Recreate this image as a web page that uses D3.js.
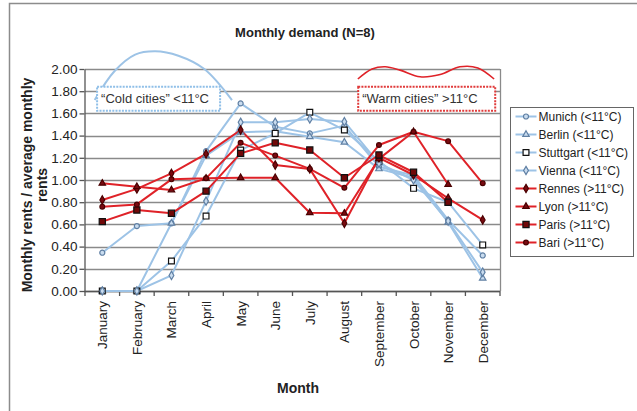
<!DOCTYPE html>
<html>
<head>
<meta charset="utf-8">
<script src="https://cdn.jsdelivr.net/npm/d3@7"></script>
<style>
  html, body { margin: 0; padding: 0; background: #fff; }
  svg { display: block; font-family: "Liberation Sans", Arial, sans-serif; }
</style>
</head>
<body>
<svg id="chart" width="637" height="411"></svg>
<script>
// ---------- DATA ----------
const months = ["January","February","March","April","May","June","July","August","September","October","November","December"];
const yTicks = [0, 0.2, 0.4, 0.6, 0.8, 1.0, 1.2, 1.4, 1.6, 1.8, 2.0];

const munich    = [0.345, 0.585, 0.61, 1.26, 1.69, 1.48, 1.42, 1.49, 1.12, 1.04, 0.64, 0.32];
const berlin    = [0.00, 0.00, 0.61, 1.22, 1.43, 1.44, 1.39, 1.34, 1.10, 1.02, 0.62, 0.115];
const stuttgart = [0.00, 0.00, 0.27, 0.675, 1.27, 1.42, 1.61, 1.45, 1.17, 0.925, 0.80, 0.415];
const vienna    = [0.00, 0.00, 0.14, 0.81, 1.52, 1.52, 1.55, 1.525, 1.15, 1.00, 0.63, 0.17];
const rennes    = [0.82, 0.92, 1.06, 1.235, 1.45, 1.135, 1.10, 0.61, 1.20, 1.045, 0.835, 0.64];
const lyon      = [0.97, 0.94, 0.91, 1.015, 1.02, 1.02, 0.705, 0.70, 1.19, 1.435, 0.96, null];
const paris     = [0.625, 0.73, 0.70, 0.90, 1.24, 1.335, 1.27, 1.02, 1.225, 1.07, 0.80, null];
const bari      = [0.76, 0.78, 1.006, 1.015, 1.335, 1.22, 1.10, 0.93, 1.315, 1.435, 1.35, 0.97];

const seriesNames = ["Munich (<11°C)","Berlin (<11°C)","Stuttgart (<11°C)","Vienna (<11°C)",
                     "Rennes (>11°C)","Lyon (>11°C)","Paris (>11°C)","Bari (>11°C)"];
const seriesValues = [munich, berlin, stuttgart, vienna, rennes, lyon, paris, bari];

// annotation shapes, in (month index, value) units
const coldArc  = [[-0.22,1.72],[0.35,1.98],[0.95,2.13],[1.53,2.16],[2.2,2.12],[2.95,2.0],[3.75,1.72]];
const warmWave = [[7.39,1.91],[7.8,2.0],[8.18,2.02],[8.61,1.99],[9.19,1.93],[9.77,1.95],[10.34,2.02],[10.86,2.01],[11.33,1.91]];

// ---------- STYLES ----------
const BLUE = "#9dc3e6", RED = "#df2228";
const styles = [
  {line: BLUE, w: 2, shape: d3.symbolCircle,   size: 20, fill: "#c9dcef", stroke: "#5f7fa3"},
  {line: BLUE, w: 2, shape: d3.symbolTriangle, size: 18, fill: "#c9dcef", stroke: "#5f7fa3"},
  {line: BLUE, w: 2, shape: d3.symbolSquare,   size: 34, fill: "#ffffff", stroke: "#111111"},
  {line: BLUE, w: 2, shape: d3.symbolDiamond,  size: 20, fill: "#c9dcef", stroke: "#5f7fa3"},
  {line: RED,  w: 2, shape: d3.symbolDiamond,  size: 20, fill: "#7a0a10", stroke: "#4a0000"},
  {line: RED,  w: 2, shape: d3.symbolTriangle, size: 18, fill: "#7a0a10", stroke: "#4a0000"},
  {line: RED,  w: 2, shape: d3.symbolSquare,   size: 38, fill: "#700808", stroke: "#111111"},
  {line: RED,  w: 2, shape: d3.symbolCircle,   size: 18, fill: "#7a0a10", stroke: "#4a0000"}
];

const svg = d3.select("#chart");

// outer frame
svg.append("rect").attr("x", 9.5).attr("y", 3.5).attr("width", 640).attr("height", 420)
  .attr("fill", "#fff").attr("stroke", "#8c8c8c").attr("stroke-width", 1.5);

// scales
const x = d3.scaleBand().domain(months).range([85, 500]).padding(0);
const y = d3.scaleLinear().domain([0, 2]).range([291, 69]);
const xi = d3.scaleLinear().domain([0, 11]).range([x(months[0]) + x.bandwidth()/2, x(months[11]) + x.bandwidth()/2]);

// gridlines
svg.append("g").selectAll("line").data(yTicks).join("line")
  .attr("x1", 85).attr("x2", 500)
  .attr("y1", d => Math.round(y(d)) + 0.5).attr("y2", d => Math.round(y(d)) + 0.5)
  .attr("stroke", "#8a8a8a").attr("stroke-width", 1.3);

// right border of plot area
svg.append("line").attr("x1", 500.5).attr("x2", 500.5).attr("y1", y(2)).attr("y2", y(0))
  .attr("stroke", "#8a8a8a").attr("stroke-width", 1.3);

// y axis
const yAxis = svg.append("g").attr("transform", "translate(84.5,0)")
  .call(d3.axisLeft(y).tickValues(yTicks).tickFormat(d3.format(".2f")).tickSize(5).tickSizeOuter(0));
yAxis.select(".domain").attr("stroke", "#555").attr("stroke-width", 1.3);
yAxis.selectAll(".tick line").attr("stroke", "#555").attr("stroke-width", 1.3);
yAxis.selectAll(".tick text").attr("font-size", 13.5).attr("fill", "#222")
  .attr("font-family", "Liberation Sans, Arial, sans-serif").attr("x", -7);

// x axis
const xg = svg.append("g");
xg.append("line").attr("x1", 84).attr("x2", 500).attr("y1", y(0) + 0.5).attr("y2", y(0) + 0.5)
  .attr("stroke", "#555").attr("stroke-width", 1.3);
const boundaries = months.map(m => x(m)).concat([x.range()[1]]);
xg.selectAll("line.tk").data(boundaries).join("line").attr("class", "tk")
  .attr("x1", d => d).attr("x2", d => d).attr("y1", y(0)).attr("y2", y(0) + 5)
  .attr("stroke", "#555").attr("stroke-width", 1.3);
xg.selectAll("text").data(months).join("text")
  .attr("transform", d => `translate(${x(d) + x.bandwidth()/2 + 5},${y(0) + 10}) rotate(-90)`)
  .attr("text-anchor", "end").attr("font-size", 13.5).attr("fill", "#222").text(d => d);

// annotations
const annLine = d3.line().x(d => xi(d[0])).y(d => y(d[1])).curve(d3.curveCatmullRom);
svg.append("path").attr("d", annLine(coldArc)).attr("fill", "none").attr("stroke", BLUE).attr("stroke-width", 2);
svg.append("path").attr("d", annLine(warmWave)).attr("fill", "none").attr("stroke", RED).attr("stroke-width", 1.6);

// series lines
const line = d3.line().defined(d => d != null).x((d, i) => xi(i)).y(d => y(d));
const gLines = svg.append("g");
seriesValues.forEach((vals, k) => {
  gLines.append("path").attr("d", line(vals)).attr("fill", "none")
    .attr("stroke", styles[k].line).attr("stroke-width", styles[k].w).attr("stroke-linejoin", "round");
});
seriesValues.forEach((vals, k) => {
  const st = styles[k];
  gLines.append("g").selectAll("path").data(vals.map((v, i) => [i, v]).filter(d => d[1] != null)).join("path")
    .attr("transform", d => `translate(${xi(d[0])},${y(d[1])})`)
    .attr("d", d3.symbol().type(st.shape).size(st.size))
    .attr("fill", st.fill).attr("stroke", st.stroke).attr("stroke-width", 1.2);
});

// annotation boxes
function noteBox(x0, y0, w, h, col, txt) {
  svg.append("rect").attr("x", x0).attr("y", y0).attr("width", w).attr("height", h)
    .attr("fill", "#fff").attr("stroke", col).attr("stroke-width", 2).attr("stroke-dasharray", "2,1.2");
  svg.append("text").attr("x", x0 + 4).attr("y", y0 + h/2 + 4.5).attr("font-size", 13)
    .attr("fill", "#333").text(txt);
}
noteBox(xi(-0.15), y(1.84), 123, 24, "#8fbfe8", "\u201CCold cities\u201D <11\u00B0C");
noteBox(xi(7.4), y(1.84), 137, 24, "#e03a3a", "\u201CWarm cities\u201D >11\u00B0C");

// legend
const lg = svg.append("g").attr("transform", "translate(510.5,107.5)");
lg.append("rect").attr("width", 123).attr("height", 149).attr("fill", "#fff")
  .attr("stroke", "#666").attr("stroke-width", 1);
seriesNames.forEach((name, k) => {
  const st = styles[k];
  const cy = 9 + k * 18;
  lg.append("line").attr("x1", 5).attr("x2", 26).attr("y1", cy).attr("y2", cy)
    .attr("stroke", st.line).attr("stroke-width", st.w);
  lg.append("path").attr("transform", `translate(15.5,${cy})`)
    .attr("d", d3.symbol().type(st.shape).size(st.size))
    .attr("fill", st.fill).attr("stroke", st.stroke).attr("stroke-width", 1.2);
  lg.append("text").attr("x", 28).attr("y", cy + 4.2).attr("font-size", 12).attr("fill", "#222").text(name);
});

// titles
svg.append("text").attr("x", 305).attr("y", 37).attr("text-anchor", "middle")
  .attr("font-size", 13).attr("font-weight", "bold").attr("fill", "#222").text("Monthly demand (N=8)");
svg.append("text").attr("x", 298).attr("y", 393).attr("text-anchor", "middle")
  .attr("font-size", 14).attr("font-weight", "bold").attr("fill", "#222").text("Month");
const yt = svg.append("text").attr("transform", "translate(32,185) rotate(-90)")
  .attr("text-anchor", "middle").attr("font-size", 14).attr("font-weight", "bold").attr("fill", "#222");
yt.append("tspan").attr("x", 0).attr("dy", 0).text("Monthly rents / average monthly");
yt.append("tspan").attr("x", 0).attr("dy", 15).text("rents");
</script>
</body>
</html>
